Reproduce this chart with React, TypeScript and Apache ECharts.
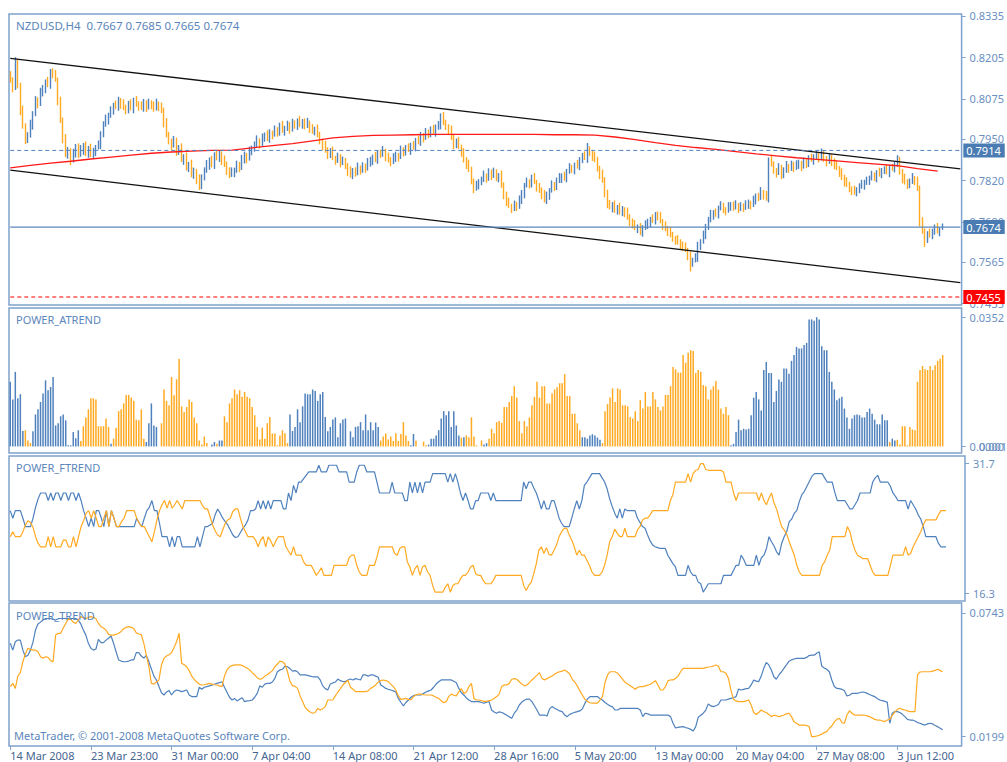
import React, { useEffect, useRef } from "react";
import * as echarts from "echarts";

// ---------- axis / label data ----------
const xTickLabels = ["14 Mar 2008", "23 Mar 23:00", "31 Mar 00:00", "7 Apr 04:00", "14 Apr 08:00", "21 Apr 12:00", "28 Apr 16:00", "5 May 20:00", "13 May 00:00", "20 May 04:00", "27 May 08:00", "3 Jun 12:00"];
const BARS_PER_TICK = 32;
const SLOT_COUNT = 378;

const priceTicks = [0.8335, 0.8205, 0.8075, 0.795, 0.782, 0.769, 0.7565, 0.7435];
const atrendTicks = [352, 0];
const ftrendTicks = [31.7, 16.3];
const trendTicks = [743, 199];

const levelDashed = 0.7914;
const levelLast = 0.7674;
const levelRed = 0.7455;
const channelUpper = [0.8202, 0.7856];
const channelLower = [0.7852, 0.75];

// moving average, one value every MA_STEP bars (pips)
const MA_STEP = 8;
const maSample = [7859, 7867, 7874, 7880, 7887, 7893, 7899, 7905, 7909, 7912, 7914, 7915, 7922, 7929, 7935, 7944, 7953, 7958, 7961, 7962, 7963, 7964, 7964, 7964, 7964, 7964, 7964, 7963, 7963, 7962, 7956, 7948, 7938, 7930, 7923, 7917, 7910, 7903, 7897, 7891, 7886, 7881, 7876, 7871, 7866, 7857, 7849];

// ---------- NZDUSD H4 prices (pips, x 1e-4) ----------
const openPips = [
8150,8135,8110,8191,8120,8040,7990,7947,7960,7994,
8030,8072,8060,8095,8109,8130,8120,8160,8150,8135,
8070,8009,7950,7900,7915,7884,7905,7925,7900,7915,
7930,7905,7920,7900,7912,7925,7931,7965,7994,8010,
8025,8040,8055,8050,8072,8060,8048,8040,8058,8045,
8072,8060,8052,8047,8065,8050,8062,8056,8045,8060,
8052,8040,8000,7962,7945,7931,7945,7910,7920,7884,
7895,7860,7870,7837,7850,7825,7806,7830,7850,7868,
7885,7870,7900,7890,7905,7884,7870,7850,7837,7845,
7853,7870,7860,7885,7900,7890,7912,7920,7931,7945,
7935,7955,7962,7950,7970,7965,7978,7970,7990,7975,
7984,7995,7980,7998,7994,8008,7995,8003,7990,8000,
7984,7975,7980,7962,7945,7930,7915,7900,7910,7890,
7884,7895,7875,7880,7868,7850,7837,7850,7842,7860,
7853,7865,7858,7875,7884,7895,7885,7905,7900,7912,
7895,7885,7878,7890,7900,7895,7915,7908,7920,7915,
7931,7925,7945,7940,7962,7955,7970,7965,7978,7972,
7988,7994,8019,8000,7990,7978,7955,7931,7940,7925,
7909,7885,7870,7853,7820,7796,7805,7815,7821,7835,
7828,7846,7835,7845,7830,7837,7805,7774,7750,7740,
7733,7745,7738,7758,7780,7806,7815,7808,7827,7815,
7800,7790,7775,7758,7775,7790,7806,7800,7818,7827,
7835,7828,7848,7859,7855,7870,7865,7884,7895,7890,
7915,7905,7895,7884,7860,7840,7821,7780,7743,7735,
7745,7727,7735,7720,7730,7721,7705,7690,7680,7670,
7675,7658,7672,7680,7690,7700,7695,7712,7705,7692,
7680,7670,7660,7649,7640,7635,7627,7618,7610,7602,
7585,7564,7570,7577,7618,7630,7649,7675,7695,7712,
7720,7715,7733,7740,7730,7727,7738,7743,7735,7742,
7733,7740,7735,7743,7750,7745,7758,7770,7765,7783,
7775,7765,7884,7870,7853,7845,7860,7837,7850,7865,
7859,7870,7860,7868,7875,7865,7878,7872,7888,7884,
7895,7900,7890,7905,7890,7880,7892,7878,7865,7858,
7846,7830,7815,7806,7795,7790,7783,7790,7800,7806,
7815,7820,7827,7835,7830,7846,7840,7850,7853,7845,
7860,7859,7870,7884,7850,7827,7815,7806,7815,7827,
7820,7796,7690,7660,7640,7655,7649,7660,7671,7660,
7667];
const closePips = [
8135,8110,8191,8120,8040,7990,7947,7960,7994,8030,
8072,8060,8095,8109,8130,8120,8160,8150,8135,8070,
8009,7950,7900,7915,7884,7905,7925,7900,7915,7930,
7905,7920,7900,7912,7925,7931,7965,7994,8010,8025,
8040,8055,8050,8072,8060,8048,8040,8058,8045,8072,
8060,8052,8047,8065,8050,8062,8056,8045,8060,8052,
8040,8000,7962,7945,7931,7945,7910,7920,7884,7895,
7860,7870,7837,7850,7825,7806,7830,7850,7868,7885,
7870,7900,7890,7905,7884,7870,7850,7837,7845,7853,
7870,7860,7885,7900,7890,7912,7920,7931,7945,7935,
7955,7962,7950,7970,7965,7978,7970,7990,7975,7984,
7995,7980,7998,7994,8008,7995,8003,7990,8000,7984,
7975,7980,7962,7945,7930,7915,7900,7910,7890,7884,
7895,7875,7880,7868,7850,7837,7850,7842,7860,7853,
7865,7858,7875,7884,7895,7885,7905,7900,7912,7895,
7885,7878,7890,7900,7895,7915,7908,7920,7915,7931,
7925,7945,7940,7962,7955,7970,7965,7978,7972,7988,
7994,8019,8000,7990,7978,7955,7931,7940,7925,7909,
7885,7870,7853,7820,7796,7805,7815,7821,7835,7828,
7846,7835,7845,7830,7837,7805,7774,7750,7740,7733,
7745,7738,7758,7780,7806,7815,7808,7827,7815,7800,
7790,7775,7758,7775,7790,7806,7800,7818,7827,7835,
7828,7848,7859,7855,7870,7865,7884,7895,7890,7915,
7905,7895,7884,7860,7840,7821,7780,7743,7735,7745,
7727,7735,7720,7730,7721,7705,7690,7680,7670,7675,
7658,7672,7680,7690,7700,7695,7712,7705,7692,7680,
7670,7660,7649,7640,7635,7627,7618,7610,7602,7585,
7564,7570,7577,7618,7630,7649,7675,7695,7712,7720,
7715,7733,7740,7730,7727,7738,7743,7735,7742,7733,
7740,7735,7743,7750,7745,7758,7770,7765,7783,7775,
7765,7884,7870,7853,7845,7860,7837,7850,7865,7859,
7870,7860,7868,7875,7865,7878,7872,7888,7884,7895,
7900,7890,7905,7890,7880,7892,7878,7865,7858,7846,
7830,7815,7806,7795,7790,7783,7790,7800,7806,7815,
7820,7827,7835,7830,7846,7840,7850,7853,7845,7860,
7859,7870,7884,7850,7827,7815,7806,7815,7827,7820,
7796,7690,7660,7640,7655,7649,7660,7671,7660,7667,
7674];
const highPips = [
8162,8143,8206,8201,8126,8054,7999,7971,8010,8037,
8084,8080,8110,8119,8136,8144,8169,8171,8166,8142,
8082,8017,7965,7925,7921,7919,7934,7936,7931,7937,
7942,7928,7935,7922,7931,7945,7974,8005,8026,8032,
8052,8063,8070,8082,8078,8074,8057,8069,8074,8079,
8084,8068,8067,8075,8071,8076,8071,8067,8076,8067,
8064,8048,8015,7972,7951,7959,7954,7931,7936,7902,
7907,7878,7885,7860,7856,7839,7839,7861,7884,7892,
7897,7908,7915,7915,7911,7898,7879,7861,7861,7860,
7882,7878,7900,7910,7906,7926,7929,7942,7961,7952,
7967,7970,7977,7980,7976,7992,7987,8001,8006,7991,
8007,8003,8013,8008,8014,8022,8012,8014,8016,8007,
7996,7988,7995,7972,7951,7944,7924,7921,7926,7897,
7907,7903,7895,7890,7874,7864,7859,7861,7876,7867,
7877,7873,7890,7894,7901,7909,7914,7916,7928,7919,
7907,7893,7905,7910,7906,7929,7924,7931,7936,7938,
7943,7953,7960,7972,7968,7984,7979,7989,7994,7995,
8006,8030,8034,8010,7996,7992,7964,7951,7956,7932,
7921,7893,7885,7863,7826,7819,7824,7832,7851,7842,
7858,7854,7860,7855,7843,7851,7814,7785,7766,7747,
7757,7753,7773,7790,7812,7829,7824,7838,7843,7822,
7812,7798,7790,7785,7796,7820,7815,7829,7843,7842,
7847,7856,7874,7869,7876,7884,7893,7906,7911,7937,
7927,7913,7910,7894,7866,7854,7830,7791,7759,7752,
7757,7743,7750,7740,7736,7735,7714,7701,7696,7682,
7687,7680,7695,7700,7706,7714,7721,7723,7721,7699,
7692,7678,7675,7659,7646,7649,7636,7629,7626,7609,
7597,7578,7592,7628,7636,7663,7684,7706,7728,7727,
7732,7741,7755,7750,7736,7752,7752,7754,7758,7749,
7752,7748,7758,7760,7756,7772,7779,7781,7799,7790,
7787,7892,7899,7880,7859,7874,7869,7861,7881,7872,
7882,7878,7883,7885,7881,7892,7887,7899,7904,7902,
7912,7908,7920,7915,7896,7906,7901,7889,7881,7865,
7858,7838,7830,7816,7801,7804,7799,7811,7822,7822,
7832,7835,7850,7845,7852,7860,7859,7864,7869,7867,
7872,7878,7899,7894,7856,7841,7824,7826,7843,7834,
7832,7804,7705,7670,7661,7669,7669,7682,7687,7674,
7685];
const lowPips = [
8126,8096,8103,8108,8024,7982,7934,7937,7954,7979,
8021,8046,8053,8083,8093,8112,8107,8140,8129,8055,
8000,7936,7893,7888,7868,7876,7892,7890,7894,7900,
7896,7891,7893,7888,7896,7917,7918,7955,7988,7995,
8016,8026,8043,8038,8044,8040,8027,8030,8039,8030,
8051,8038,8040,8035,8034,8042,8043,8035,8039,8037,
8031,7986,7955,7933,7915,7923,7897,7900,7878,7869,
7851,7846,7830,7825,7809,7790,7793,7820,7844,7853,
7861,7856,7883,7878,7868,7862,7837,7827,7831,7830,
7844,7846,7853,7873,7874,7882,7899,7910,7925,7920,
7926,7941,7943,7938,7949,7957,7957,7960,7969,7960,
7975,7966,7973,7982,7978,7987,7982,7980,7984,7969,
7966,7961,7955,7933,7914,7907,7887,7890,7884,7869,
7875,7861,7868,7856,7834,7829,7824,7832,7836,7838,
7844,7844,7851,7863,7868,7877,7872,7890,7894,7880,
7876,7864,7871,7878,7879,7887,7895,7898,7909,7900,
7916,7911,7933,7928,7939,7947,7952,7955,7966,7957,
7979,7980,7993,7978,7962,7947,7918,7921,7919,7894,
7876,7856,7846,7808,7780,7788,7792,7805,7815,7813,
7819,7821,7828,7818,7814,7797,7761,7740,7734,7718,
7724,7724,7731,7746,7764,7798,7795,7798,7809,7785,
7781,7761,7751,7746,7759,7782,7787,7790,7812,7812,
7819,7814,7841,7843,7839,7857,7852,7874,7884,7875,
7896,7881,7877,7848,7824,7813,7767,7733,7729,7720,
7718,7713,7713,7708,7705,7697,7677,7670,7664,7655,
7649,7644,7665,7668,7674,7687,7682,7695,7686,7665,
7661,7646,7642,7628,7619,7619,7605,7600,7596,7570,
7535,7550,7563,7565,7602,7622,7636,7665,7689,7697,
7706,7701,7726,7718,7711,7719,7725,7725,7729,7718,
7724,7721,7728,7731,7729,7737,7745,7755,7759,7760,
7756,7751,7863,7841,7829,7837,7824,7827,7844,7844,
7850,7846,7853,7856,7849,7857,7859,7862,7878,7869,
7886,7876,7883,7878,7864,7872,7865,7855,7852,7831,
7821,7801,7799,7783,7774,7775,7770,7780,7794,7791,
7806,7806,7820,7818,7814,7832,7827,7840,7839,7830,
7850,7845,7863,7838,7811,7807,7793,7796,7809,7805,
7787,7676,7653,7612,7624,7641,7636,7650,7654,7645,
7665];

// ---------- POWER_ATREND (x 1e-4; positive = blue, negative = orange) ----------
const atrend = [
176,128,203,131,142,42,-44,-16,-9,41,
87,101,121,144,180,153,162,189,57,63,
82,87,71,3,3,39,22,44,-15,-55,
-79,-101,-131,-131,-128,-55,-55,-55,-76,-53,
7,-21,-51,-96,-101,-117,-140,-140,-133,-124,
-73,-71,-101,-21,12,63,117,57,53,0,
-63,-155,-124,-112,-189,-139,-183,-238,-109,-94,
-107,-128,-121,-79,-63,-16,-5,-27,-9,0,
5,12,-7,16,16,-82,-66,-117,-131,-155,
-142,-153,-135,-148,-135,-131,-107,-85,-53,-19,
-51,-21,-63,-80,-35,-35,-3,-30,-44,-36,
-9,87,42,53,101,66,109,144,142,142,
155,151,124,142,148,80,41,53,73,79,
25,63,73,76,0,41,25,53,55,66,
44,87,44,66,44,65,53,-16,-27,-35,
-19,-27,-15,-36,-15,-34,-66,-30,-15,3,
34,-16,0,0,-13,-3,5,21,21,30,
44,76,96,85,96,53,96,57,30,-24,
25,-30,-25,-79,-27,-3,0,-16,5,9,
-21,-48,-36,-66,-69,-64,-107,-107,-121,-137,
-164,-133,-69,-36,-69,-55,-79,-112,-135,-176,
-133,-164,-164,-117,-117,-144,-155,-161,-172,-172,
-197,-137,-137,-89,-89,-63,-44,25,25,21,
30,33,30,24,18,-9,-96,-115,-133,-158,
-121,-158,-155,-112,-112,-109,-80,-76,-96,-69,
-126,-103,-148,-109,-109,-148,-128,-107,-98,-109,
-140,-140,-164,-216,-210,-201,-201,-249,-228,-255,
-262,-260,-200,-208,-203,-167,-164,-128,-155,-164,
-178,-155,-103,-89,-107,-85,3,7,39,73,
44,48,46,48,85,133,148,128,98,208,
230,200,200,121,151,182,176,212,212,198,
233,249,271,267,267,276,282,346,346,342,
352,346,273,262,262,203,176,155,126,131,
135,103,79,48,76,85,87,85,79,79,
94,103,89,73,60,60,87,71,71,-12,
21,16,-18,-5,-55,-55,-3,-53,-46,-44,
-176,-208,-219,-210,-208,-219,-208,-221,-233,-239,
-249];

// ---------- POWER_FTREND ----------
const ftrendBlue = [
26.1,25.2,26.1,26.1,26.1,25.2,24.2,24.2,24.2,25.2,
26.5,27.5,28.2,28.2,28.2,27.3,28.2,27.3,28.2,28.2,
27.3,28.2,28.2,27.3,28.2,28.2,27.3,28.2,27.3,26.1,
25.2,24.2,25.2,24.2,26.1,26.1,25.2,24.2,26.1,24.2,
26.1,25.2,24.2,24.2,24.2,24.2,24.2,24.2,24.2,24.2,
25.2,24.6,24.2,25.2,26.1,26.5,27.3,26.1,26.1,24.6,
23.0,23.0,23.0,21.8,23.0,21.8,23.0,23.0,21.8,21.8,
21.8,21.8,21.8,21.8,23.0,21.8,23.0,24.2,24.2,24.4,
24.6,25.6,26.3,25.8,25.2,24.8,24.4,23.8,23.2,22.9,
23.0,23.5,24.0,24.4,25.0,26.1,26.1,26.3,27.3,26.3,
27.3,26.3,27.3,26.3,27.3,27.3,27.3,27.3,26.3,26.3,
28.2,27.3,29.1,28.2,29.5,29.5,29.9,30.3,30.7,30.7,
30.7,30.7,31.5,30.7,30.7,30.7,31.5,31.5,31.5,31.5,
30.7,30.7,30.7,30.7,29.5,29.5,29.5,30.7,31.5,31.5,
31.5,30.7,30.7,30.7,30.7,29.5,28.2,28.2,28.2,28.2,
28.2,29.5,28.2,28.2,28.2,28.2,27.3,27.3,29.5,28.2,
29.5,28.2,29.5,28.2,29.5,29.5,29.5,30.5,30.5,30.5,
30.5,30.5,30.5,29.5,30.5,29.5,30.5,29.5,28.2,27.3,
28.2,27.3,26.3,26.3,27.3,27.3,28.2,28.2,28.2,28.2,
27.3,28.2,27.3,27.3,27.3,27.3,27.3,27.3,27.3,27.3,
27.3,27.3,27.3,29.5,28.7,29.5,29.5,28.8,28.2,27.3,
26.3,27.3,26.3,26.3,27.3,27.3,26.3,25.2,24.6,24.2,
24.2,24.2,25.2,26.3,27.3,26.3,27.3,29.1,29.5,30.0,
30.5,30.5,30.5,30.5,30.0,29.5,28.7,27.5,26.6,25.8,
25.2,26.3,25.2,26.3,26.1,26.1,26.1,26.1,25.2,24.7,
24.2,24.0,23.2,22.5,22.0,21.8,21.7,21.6,21.6,21.6,
20.8,20.3,19.8,19.4,18.4,18.4,18.4,18.4,19.6,18.8,
18.4,18.4,17.6,17.4,16.4,16.9,17.4,17.4,17.4,17.4,
17.4,17.4,18.4,18.4,18.4,18.4,19.0,19.6,19.6,20.8,
20.3,19.6,19.6,19.6,19.6,20.8,19.6,20.5,20.8,21.6,
23.0,22.4,21.9,21.2,20.8,22.2,23.0,23.6,24.8,25.1,
25.8,26.1,27.2,28.0,28.4,29.0,29.6,30.2,30.5,30.5,
30.5,30.5,30.0,29.5,29.5,29.5,28.3,27.3,27.3,27.3,
27.3,26.8,26.3,26.3,26.8,27.3,28.2,28.2,28.2,28.2,
28.2,29.5,30.0,30.3,29.5,29.5,29.5,29.5,29.0,28.2,
27.8,27.3,27.3,27.3,27.3,26.3,27.3,26.8,26.3,25.6,
25.1,24.2,23.0,23.0,23.0,23.0,23.0,22.2,21.8,21.8,
21.8];
const ftrendOrange = [
23.0,23.6,23.0,23.0,23.0,23.6,24.4,24.9,24.7,24.1,
23.0,22.2,21.8,21.8,21.8,23.0,21.8,23.0,21.8,21.8,
21.8,22.6,22.6,21.8,21.8,23.0,21.8,23.0,24.2,24.9,
25.8,26.1,25.2,26.1,25.2,24.2,24.2,25.2,26.1,24.2,
26.1,25.2,24.2,24.2,24.8,25.2,26.1,26.1,26.1,26.1,
25.2,24.6,24.2,24.2,23.6,23.0,22.4,23.6,25.0,26.1,
26.8,27.3,26.4,27.3,26.4,26.8,27.3,26.8,26.3,27.3,
27.3,27.3,27.3,27.3,27.3,27.3,26.7,26.3,26.3,25.4,
24.4,23.7,23.2,23.0,23.8,24.6,25.0,25.2,26.0,26.3,
26.3,25.2,24.2,23.6,23.0,23.0,23.0,22.6,21.8,22.6,
23.0,21.8,23.0,22.5,21.8,22.5,23.0,23.0,23.0,21.8,
21.3,20.8,21.8,20.8,20.8,20.8,20.0,19.6,19.6,19.6,
19.0,18.4,18.8,19.3,18.4,18.4,18.4,18.4,19.6,19.6,
19.6,19.6,19.6,19.6,20.5,20.8,20.8,19.6,18.8,18.4,
18.4,18.4,19.6,19.6,19.6,20.6,21.8,21.8,21.8,21.8,
21.8,21.8,21.0,20.8,21.6,21.8,21.8,20.0,19.4,18.4,
19.2,19.6,18.4,19.4,19.6,18.8,18.4,17.2,16.4,16.4,
16.4,16.4,17.0,17.4,16.4,17.2,17.4,17.4,18.0,18.4,
18.4,18.8,19.4,19.6,18.6,18.4,18.4,17.8,17.4,17.4,
17.4,17.8,18.4,18.4,18.4,18.4,18.4,18.4,18.4,18.4,
18.4,18.4,18.4,17.2,16.6,17.2,17.6,18.6,19.8,21.4,
21.8,21.0,21.7,20.9,20.8,21.4,22.0,23.0,23.6,24.0,
24.0,23.2,22.6,21.8,20.8,21.4,20.8,20.8,20.2,19.6,
18.8,18.4,18.4,18.4,18.8,19.6,20.8,22.4,23.0,23.9,
23.4,23.0,23.0,24.0,23.0,23.0,23.0,23.0,23.8,24.2,
25.0,25.2,25.2,25.6,26.1,26.1,26.1,26.1,26.1,26.1,
26.1,27.3,28.0,29.5,29.5,29.5,29.5,29.5,30.5,29.5,
30.5,30.9,31.0,31.7,31.7,31.0,30.9,30.9,30.9,30.9,
30.9,30.9,30.7,29.5,29.5,29.5,28.2,27.3,28.2,28.2,
28.2,28.2,28.2,28.2,28.2,28.2,27.3,28.2,27.3,26.8,
27.6,28.2,27.0,26.3,25.2,24.2,23.8,23.3,22.4,21.6,
20.8,19.6,18.8,18.4,18.4,18.4,18.4,18.4,18.4,18.4,
18.4,19.6,20.0,20.8,21.4,23.0,23.0,23.0,23.0,23.0,
23.0,24.2,23.6,22.3,21.4,20.8,20.6,20.4,20.4,20.4,
19.6,18.8,18.4,18.4,18.4,18.4,18.4,18.4,19.6,20.8,
20.8,20.8,20.8,20.8,21.8,20.8,21.0,21.8,22.4,23.0,
23.6,24.4,25.0,25.0,25.0,25.0,25.0,25.6,26.1,26.1,
26.1];

// ---------- POWER_TREND (x 1e-4) ----------
const trendBlue = [
609,579,616,623,623,579,550,557,579,613,
667,694,702,711,718,718,718,714,711,717,
718,718,718,718,718,718,718,711,694,667,
645,609,587,579,584,626,612,612,623,631,
641,609,572,536,531,528,528,531,536,536,
568,568,553,544,556,528,496,465,448,419,
392,382,395,402,382,397,404,401,397,400,
404,382,375,375,375,416,407,416,419,422,
425,429,433,436,440,416,394,372,360,367,
356,363,370,353,356,357,360,372,389,422,
416,430,433,433,439,455,484,492,495,509,
506,498,487,489,484,470,470,470,468,465,
462,462,462,448,422,410,404,430,435,439,
452,445,441,441,448,452,448,454,451,448,
471,470,465,470,470,465,460,426,419,411,
407,404,400,395,367,350,334,349,360,372,
379,382,382,382,389,395,400,404,416,430,
440,448,448,448,448,448,442,436,411,392,
382,369,360,353,353,353,353,349,346,350,
353,316,307,302,308,305,300,293,286,280,
302,316,338,351,359,364,364,353,335,316,
294,294,294,290,321,331,324,318,312,309,
294,287,297,302,306,309,312,321,345,364,
375,375,375,375,366,360,349,341,334,330,
316,316,323,323,323,323,323,323,323,323,
316,287,302,299,294,294,294,294,294,294,
294,294,287,258,237,240,242,243,239,236,
231,224,243,284,293,302,316,343,334,331,
335,340,360,360,360,364,367,370,375,408,
404,407,410,411,426,448,443,441,465,499,
525,514,492,462,451,470,483,499,514,530,
536,540,543,543,543,543,547,555,557,557,
565,572,509,500,495,484,448,419,411,410,
407,401,378,381,389,389,389,392,395,394,
389,384,379,375,367,360,357,354,351,258,
302,309,309,305,297,287,275,272,272,268,
261,258,253,250,255,258,255,248,243,236,
229];
const trendOrange = [
419,433,411,465,480,528,562,587,582,579,
579,572,550,543,550,547,533,528,645,653,
653,675,696,715,714,702,696,711,726,721,
718,723,726,723,717,696,682,676,667,648,
645,645,648,653,661,673,679,682,679,674,
655,650,647,609,557,506,433,430,439,448,
514,543,553,559,568,591,616,653,521,515,
506,489,465,451,439,430,426,427,430,433,
430,427,426,422,419,465,492,506,511,514,
514,514,512,506,500,492,480,470,458,451,
454,465,471,480,489,506,518,531,528,518,
484,441,423,420,411,378,353,328,316,307,
302,305,323,316,322,331,360,360,360,378,
395,410,426,437,447,416,407,397,397,397,
397,397,400,411,417,426,439,445,448,445,
441,430,419,404,378,363,365,367,363,360,
375,382,386,386,383,382,382,382,378,372,
367,357,348,353,375,386,381,378,397,410,
389,395,419,433,366,360,360,357,354,354,
357,360,367,375,386,419,426,426,433,451,
454,451,440,430,422,426,436,448,458,469,
480,455,448,454,460,465,474,480,484,487,
492,484,474,451,439,422,401,382,364,354,
348,346,346,346,360,375,436,470,484,484,
484,477,465,451,437,430,422,416,407,416,
419,419,422,425,429,437,445,426,404,404,
419,445,448,448,455,465,484,499,499,499,
499,499,499,499,499,499,502,505,506,509,
514,508,484,484,477,455,401,363,356,353,
353,353,356,360,338,305,296,305,316,309,
305,296,287,293,291,287,290,294,299,302,
287,265,258,250,250,250,248,243,199,199,
202,205,210,217,221,236,246,264,275,280,
261,258,294,313,302,294,294,294,294,293,
290,287,281,275,272,272,268,265,272,275,
293,307,319,324,319,316,312,309,309,309,
470,483,484,484,484,484,487,490,495,489,
484];

// ---------- styling ----------
const BLUE = "#4f81bd";
const ORANGE = "#ffaa22";
const BORDER = "#7fa2cc";
const LABEL = "#6a90c2";
const TITLE = "#5b86bb";
const XLABEL = "#45658f";
const FONT = "Noto Sans";

export default function App() {
  const ref = useRef<HTMLDivElement | null>(null);

  useEffect(() => {
    if (!ref.current) return;
    const chart = echarts.init(ref.current, undefined, { renderer: "svg" });

    const cats = Array.from({ length: SLOT_COUNT }, (_, i) => String(i));
    const tickShown = (i: number) => i % BARS_PER_TICK === 0 && i / BARS_PER_TICK < xTickLabels.length;
    const LAST = SLOT_COUNT - 1;

    const candles = openPips.map((o, i) => [o / 1e4, closePips[i] / 1e4, lowPips[i] / 1e4, highPips[i] / 1e4]);
    const maData: (number | null)[] = Array.from({ length: SLOT_COUNT }, () => null);
    maSample.forEach((v, k) => { maData[k * MA_STEP] = v / 1e4; });

    const gridDefs = [
      { left: 9, top: 14, width: 956, height: 291 },
      { left: 9, top: 308, width: 956, height: 145 },
      { left: 9, top: 456, width: 956, height: 145 },
      { left: 9, top: 603, width: 956, height: 143 },
    ].map((g) => ({ ...g, show: true, borderColor: BORDER, borderWidth: 1.5, backgroundColor: "#fff" }));

    const xAxes = gridDefs.map((_, k) => ({
      type: "category",
      gridIndex: k,
      data: cats,
      boundaryGap: true,
      axisLine: { show: false },
      splitLine: { show: false },
      axisTick: { show: k === 3, interval: (i: number) => tickShown(i), alignWithLabel: true, length: 4, lineStyle: { color: BORDER } },
      axisLabel: {
        show: k === 3,
        interval: (i: number) => tickShown(i),
        formatter: (_v: string, i: number) => xTickLabels[i / BARS_PER_TICK] ?? "",
        align: "left",
        margin: 3,
        color: XLABEL,
        fontSize: 11,
        lineHeight: 12,
        fontFamily: FONT,
      },
    }));

    const yAxisBase = (gridIndex: number, min: number, max: number, ticks: number[], fmt: (v: number) => string) => ({
      type: "value",
      gridIndex,
      position: "right",
      min,
      max,
      splitLine: { show: false },
      axisLine: { show: false },
      axisTick: { show: true, customValues: ticks, length: 4, lineStyle: { color: BORDER } },
      axisLabel: { customValues: ticks, formatter: fmt, color: LABEL, fontSize: 11, fontFamily: FONT, margin: 8 },
    });

    // channel trend lines (two-point line series)
    const channelSeries = (pair: number[]) => ({
      type: "line",
      xAxisIndex: 0,
      yAxisIndex: 0,
      data: [[0, pair[0]], [LAST, pair[1]]],
      showSymbol: false,
      symbol: "none",
      silent: true,
      z: 4,
      lineStyle: { color: "#111111", width: 1.3 },
    });

    // horizontal price levels with price box at the right end
    const levelSeries = (v: number, color: string, type: any, width: number, bg: string) => ({
      type: "line",
      xAxisIndex: 0,
      yAxisIndex: 0,
      data: [[0, v], [LAST, v]],
      showSymbol: false,
      symbol: "none",
      silent: true,
      z: 4,
      lineStyle: { color, type, width },
      endLabel: {
        show: true,
        formatter: () => v.toFixed(4),
        distance: 3,
        color: "#ffffff",
        backgroundColor: bg,
        padding: [2, 4, 1, 3],
        fontSize: 11,
        fontFamily: FONT,
      },
    });

    const option = {
      animation: false,
      backgroundColor: "#ffffff",
      grid: gridDefs,
      xAxis: xAxes,
      yAxis: [
        yAxisBase(0, 0.743, 0.8341, priceTicks, (v) => v.toFixed(4)),
        yAxisBase(1, -18, 377, atrendTicks, (v) => (v / 1e4).toFixed(4)),
        yAxisBase(2, 15.35, 32.6, ftrendTicks, (v) => v.toFixed(1)),
        yAxisBase(3, 158, 786, trendTicks, (v) => (v / 1e4).toFixed(4)),
      ],
      series: [
        {
          type: "candlestick",
          xAxisIndex: 0,
          yAxisIndex: 0,
          data: candles,
          barWidth: 1,
          z: 2,
          itemStyle: { color: BLUE, color0: ORANGE, borderColor: BLUE, borderColor0: ORANGE, borderWidth: 1.4 },
        },
        {
          type: "line",
          xAxisIndex: 0,
          yAxisIndex: 0,
          data: maData,
          connectNulls: true,
          showSymbol: false,
          symbol: "none",
          z: 3,
          lineStyle: { color: "#ff1a1a", width: 1.3 },
        },
        channelSeries(channelUpper),
        channelSeries(channelLower),
        levelSeries(levelDashed, "#4f81bd", [4, 3], 1, "#4a7cb3"),
        levelSeries(levelLast, "#5b87bd", "solid", 1.2, "#4a7cb3"),
        levelSeries(levelRed, "#ff0000", [4, 3], 1.2, "#ff0000"),
        {
          type: "bar",
          xAxisIndex: 1,
          yAxisIndex: 1,
          data: atrend.map((v) => (v > 0 ? v : "-")),
          barWidth: 1.5,
          barGap: "-100%",
          itemStyle: { color: BLUE },
        },
        {
          type: "bar",
          xAxisIndex: 1,
          yAxisIndex: 1,
          data: atrend.map((v) => (v < 0 ? -v : "-")),
          barWidth: 1.5,
          barGap: "-100%",
          itemStyle: { color: ORANGE },
        },
        {
          type: "line", xAxisIndex: 2, yAxisIndex: 2, data: ftrendBlue,
          showSymbol: false, symbol: "none", lineStyle: { color: BLUE, width: 1.2 },
        },
        {
          type: "line", xAxisIndex: 2, yAxisIndex: 2, data: ftrendOrange,
          showSymbol: false, symbol: "none", lineStyle: { color: ORANGE, width: 1.2 },
        },
        {
          type: "line", xAxisIndex: 3, yAxisIndex: 3, data: trendBlue,
          showSymbol: false, symbol: "none", lineStyle: { color: BLUE, width: 1.2 },
        },
        {
          type: "line", xAxisIndex: 3, yAxisIndex: 3, data: trendOrange,
          showSymbol: false, symbol: "none", lineStyle: { color: ORANGE, width: 1.2 },
        },
      ],
      graphic: [
        { type: "text", x: 16, y: 19, z: 100, style: { text: "NZDUSD,H4  0.7667 0.7685 0.7665 0.7674", fill: TITLE, fontSize: 11.5, fontFamily: FONT, verticalAlign: "top" } },
        { type: "text", x: 16, y: 314, z: 100, style: { text: "POWER_ATREND", fill: TITLE, fontSize: 11, fontFamily: FONT, verticalAlign: "top" } },
        { type: "text", x: 16, y: 462, z: 100, style: { text: "POWER_FTREND", fill: TITLE, fontSize: 11, fontFamily: FONT, verticalAlign: "top" } },
        { type: "text", x: 16, y: 610, z: 100, style: { text: "POWER_TREND", fill: TITLE, fontSize: 11, fontFamily: FONT, verticalAlign: "top" } },
        { type: "text", x: 14, y: 730, z: 100, style: { text: "MetaTrader, © 2001-2008 MetaQuotes Software Corp.", fill: TITLE, fontSize: 11, fontFamily: FONT, verticalAlign: "top" } },
        { type: "text", x: 979, y: 446, z: 100, style: { text: "0.0017", fill: LABEL, fontSize: 11, fontFamily: FONT, verticalAlign: "middle" } },
      ],
    };

    chart.setOption(option as any);
    return () => { chart.dispose(); };
  }, []);

  return <div ref={ref} style={{ position: "absolute", left: 0, top: 0, width: 1007, height: 762 }} />;
}
